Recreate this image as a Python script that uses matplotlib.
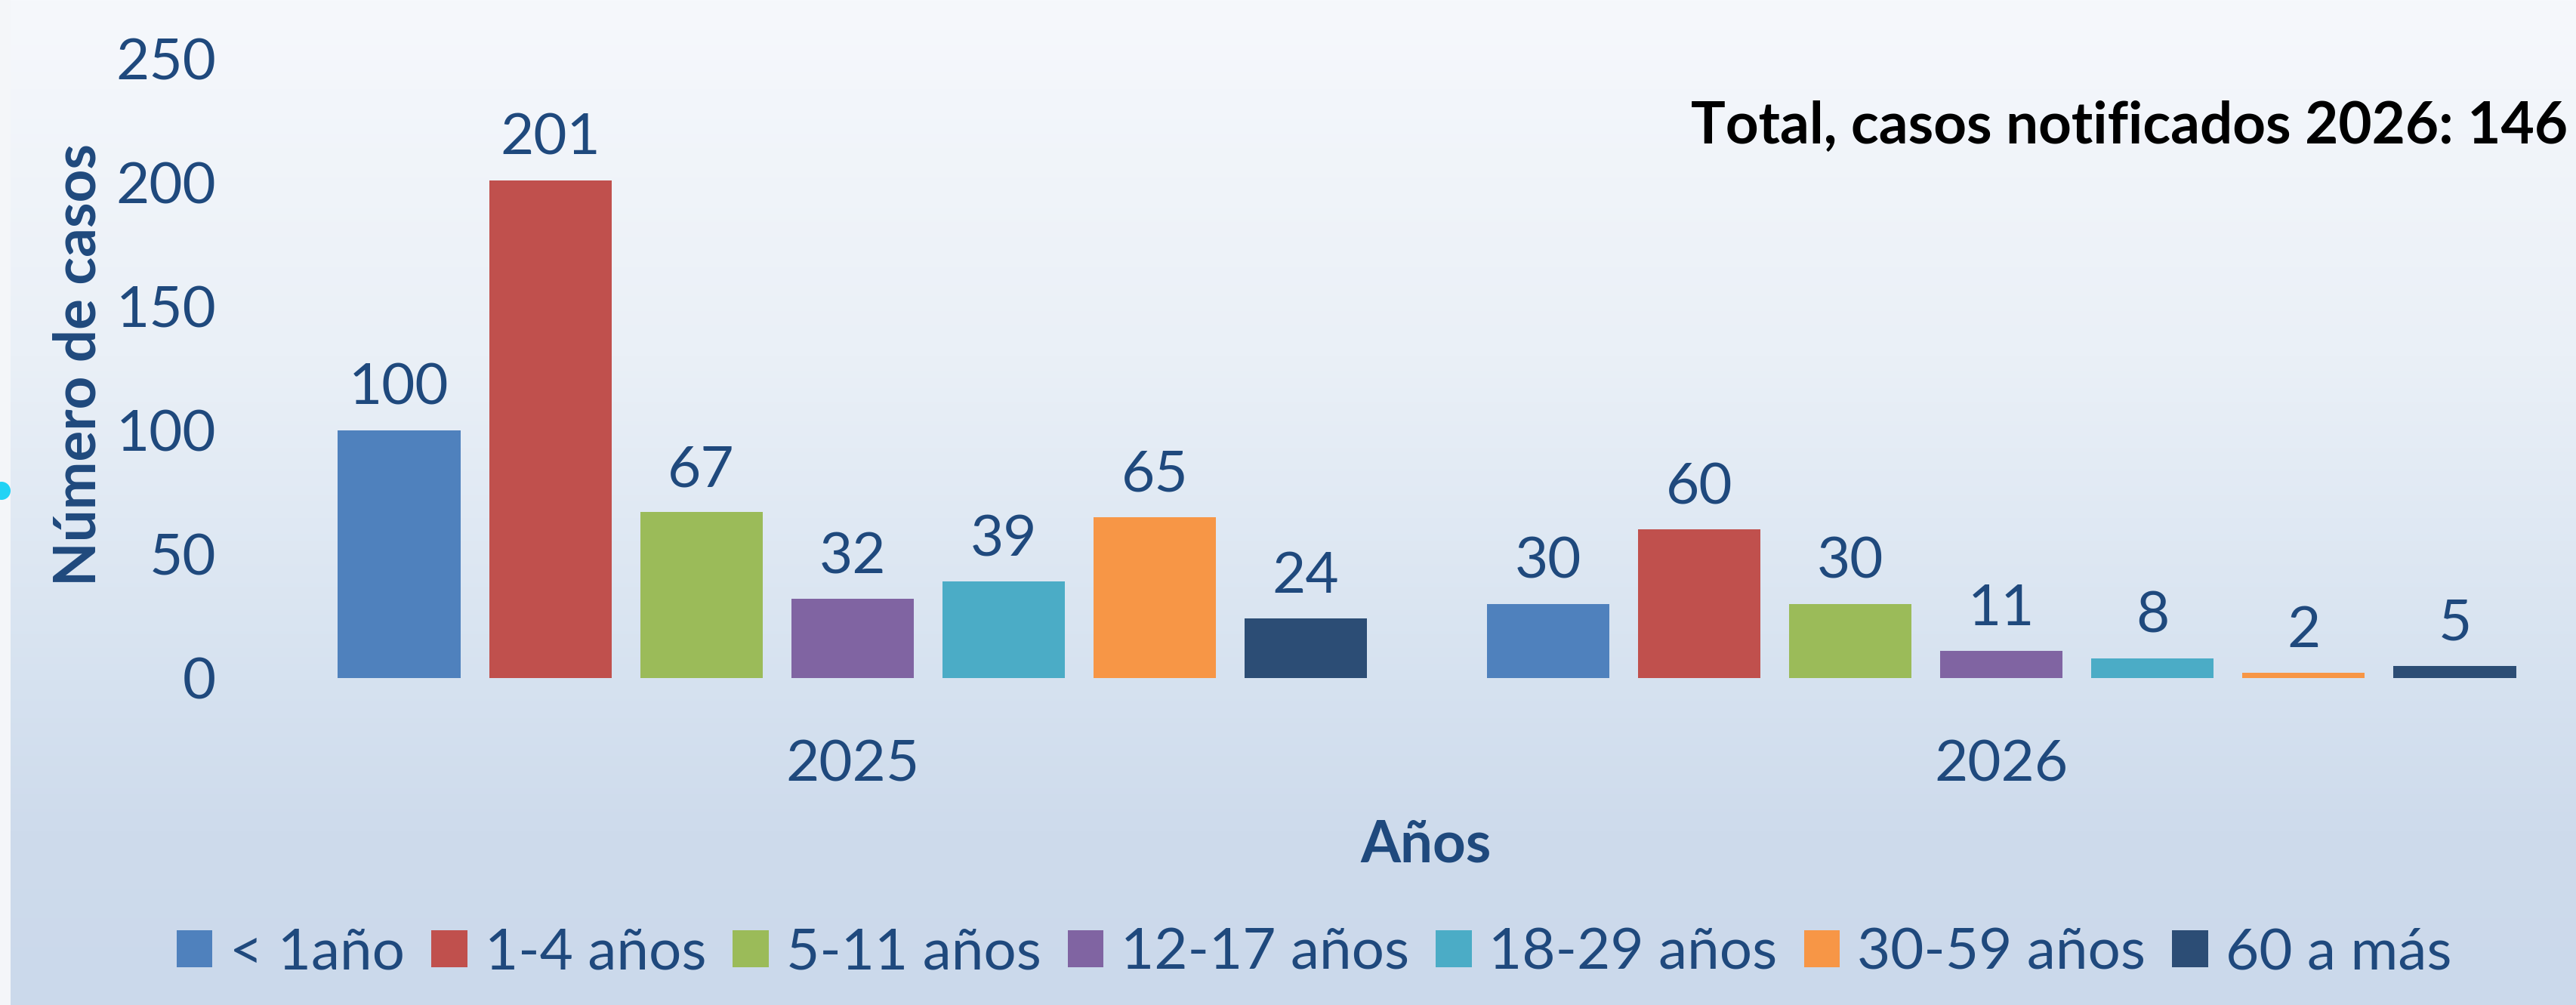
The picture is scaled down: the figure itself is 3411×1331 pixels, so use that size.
import numpy as np
import matplotlib
matplotlib.use("Agg")
import matplotlib.pyplot as plt
from matplotlib.patches import Rectangle, Circle

plt.rcParams['font.family'] = ['Lato', 'DejaVu Sans']

years = ['2025', '2026']
groups = ['< 1año', '1-4 años', '5-11 años', '12-17 años', '18-29 años', '30-59 años', '60 a más']
cases_2025 = [100, 201, 67, 32, 39, 65, 24]
cases_2026 = [30, 60, 30, 11, 8, 2, 5]
total_2026 = 146

colors = ['#4F81BD', '#C0504D', '#9BBB59', '#8064A2', '#4BACC6', '#F79646', '#2C4D75']
text_c = '#1F497D'
fs = 55

W, H = 3411, 1331
fig = plt.figure(figsize=(W / 100, H / 100), dpi=100)

# background gradient
bg = fig.add_axes([0, 0, 1, 1], zorder=-5)
stops_y = [0, 470, 900, 1100, H]
stops_c = np.array([[246, 248, 252], [234, 240, 247], [214, 226, 240],
                    [206, 219, 236], [203, 217, 235]]) / 255.0
yy = np.arange(H)
grad = np.stack([np.interp(yy, stops_y, stops_c[:, k]) for k in range(3)], axis=1)
grad = np.repeat(grad[:, None, :], 8, axis=1)
bg.imshow(grad, aspect='auto', extent=[0, W, H, 0])
bg.add_patch(Rectangle((0, 0), 14, H, color='#f4f6f9', lw=0))
bg.add_patch(Circle((2, 650), 12, color='#22d3f5', lw=0))
bg.set_xlim(0, W)
bg.set_ylim(H, 0)
bg.axis('off')

ax = fig.add_axes([368 / W, 1 - 898 / H, 1 - 368 / W, (898 - 78) / H])
ax.patch.set_alpha(0)

x = np.arange(len(years))
pitch = 0.1315
width = 0.1065
for i, g in enumerate(groups):
    vals = [cases_2025[i], cases_2026[i]]
    pos = x + (i - 3) * pitch
    bars = ax.bar(pos, vals, width, color=colors[i], label=g, lw=0)
    for b, v in zip(bars, vals):
        ax.annotate(str(v), (b.get_x() + b.get_width() / 2, v),
                    xytext=(0, 24.5), textcoords='offset points',
                    ha='center', va='baseline', fontsize=fs, color=text_c)

ax.set_xlim(-0.5, 1.5)
ax.set_ylim(0, 250)
ax.set_yticks([0, 50, 100, 150, 200, 250])
ax.set_xticks(x)
ax.set_xticklabels(years)
ax.tick_params(axis='both', length=0, labelsize=fs, labelcolor=text_c)
ax.tick_params(axis='y', pad=59)
ax.tick_params(axis='x', pad=58)
for s in ax.spines.values():
    s.set_visible(False)

fig.text(105 / W, 1 - 483 / H, 'Número de casos', rotation=90, ha='center', va='center',
         fontsize=fs, fontweight='bold', color=text_c)
fig.text(1888 / W, 1 - 1120 / H, 'Años', ha='center', va='center',
         fontsize=fs, fontweight='bold', color=text_c)
fig.text(3400 / W, 1 - 190 / H, f'Total, casos notificados 2026: {total_2026}',
         ha='right', va='baseline', fontsize=fs, fontweight='bold', color='black')

fig.legend(loc='center', bbox_to_anchor=(1740 / W, 1 - 1262 / H), ncol=7, frameon=False,
           fontsize=fs, labelcolor=text_c, handlelength=0.62, handleheight=0.62,
           handletextpad=0.3, columnspacing=0.46)

fig.savefig('out.png', dpi=100)
